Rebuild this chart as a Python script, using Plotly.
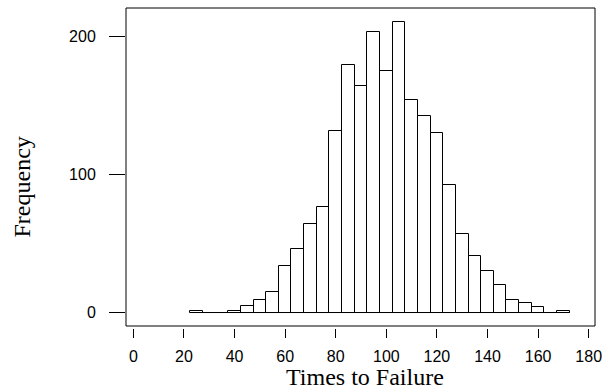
import plotly.graph_objects as go

# Histogram data: bin centers (width 5) and counts
bin_centers = [25, 30, 35, 40, 45, 50, 55, 60, 65, 70, 75, 80, 85, 90, 95,
               100, 105, 110, 115, 120, 125, 130, 135, 140, 145, 150, 155, 160, 165, 170]
counts = [1, 0, 0, 1, 5, 9, 15, 34, 46, 64, 76, 131, 179, 164, 203,
          175, 210, 154, 142, 130, 92, 57, 41, 30, 20, 9, 7, 4, 0, 1]
bin_width = 5
x_ticks = [0, 20, 40, 60, 80, 100, 120, 140, 160, 180]
y_ticks = [0, 100, 200]

W, H = 608, 392
L, R, T, B = 126, 6, 8, 64
plot_h = H - T - B
plot_w = W - L - R

fig = go.Figure()
# baseline under the bars (spans from first to last bin edge)
fig.add_trace(go.Scatter(
    x=[bin_centers[0] - bin_width / 2, bin_centers[-1] + bin_width / 2], y=[0, 0],
    mode="lines", line=dict(color="black", width=1), hoverinfo="skip", showlegend=False))
fig.add_trace(go.Bar(
    x=bin_centers, y=counts, width=[bin_width] * len(bin_centers),
    marker=dict(color="white", line=dict(color="black", width=1)),
    showlegend=False))

fig.update_layout(
    width=W, height=H,
    margin=dict(l=L, r=R, t=T, b=B, pad=0),
    paper_bgcolor="white", plot_bgcolor="white",
    bargap=0,
    font=dict(family="Liberation Sans, Arial", size=16, color="black"),
    xaxis=dict(range=[-2.92, 182.5], tickvals=x_ticks, ticks="outside", ticklen=9,
               tickwidth=1, tickcolor="black", showgrid=False, zeroline=False,
               showline=False, tickfont=dict(size=16), ticklabelstandoff=5,
               ticklabeloverflow="allow"),
    yaxis=dict(range=[-11.2, 220.25], tickvals=y_ticks, ticks="outside", ticklen=16,
               tickwidth=1, tickcolor="black", showgrid=False, zeroline=False,
               showline=False, tickfont=dict(size=16), ticklabelstandoff=10),
    shapes=[dict(type="rect", xref="paper", yref="paper", x0=0, x1=1,
                 y0=2 / plot_h, y1=1, line=dict(color="black", width=1),
                 fillcolor="rgba(0,0,0,0)", layer="above")],
    annotations=[
        dict(text="Times to Failure", xref="paper", yref="paper",
             x=(368.8 - L) / plot_w, y=-(392 - (H - B)) / plot_h,
             xanchor="center", yanchor="bottom", showarrow=False,
             font=dict(family="Liberation Serif, Times New Roman", size=24, color="black")),
        dict(text="Frequency", xref="paper", yref="paper",
             x=(5 - L) / plot_w, y=((H - B) - 186.7) / plot_h,
             xanchor="left", yanchor="middle", textangle=-90, showarrow=False,
             font=dict(family="Liberation Serif, Times New Roman", size=24, color="black")),
    ],
)

fig.write_html("out.html", config={"displayModeBar": False},
               post_script="document.body.style.margin='0';document.body.style.overflow='hidden';")
